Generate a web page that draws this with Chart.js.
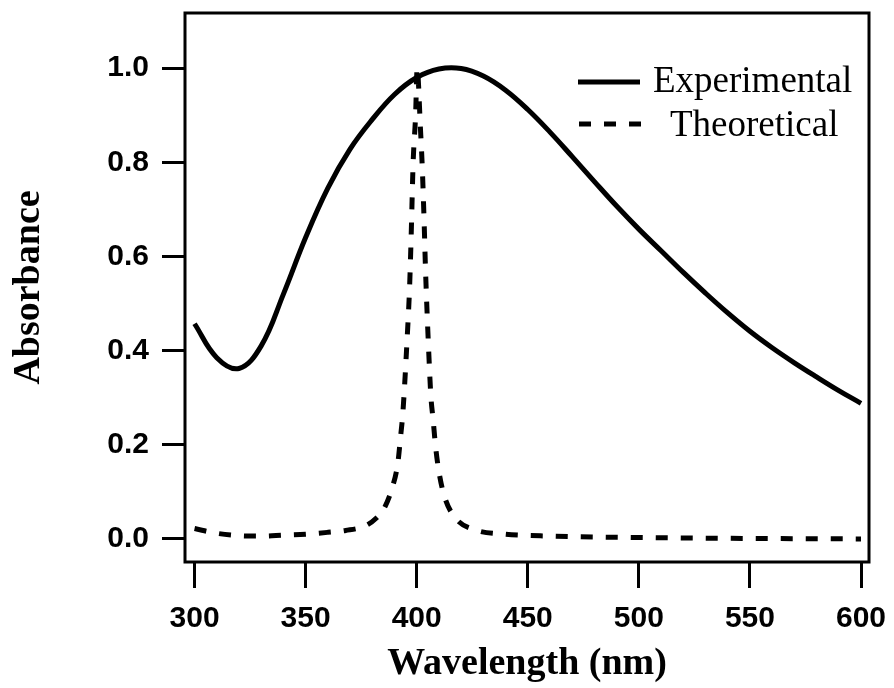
<!DOCTYPE html>
<html>
<head>
<meta charset="utf-8">
<title>Absorbance spectrum</title>
<script src="https://cdn.jsdelivr.net/npm/chart.js@4"></script>
<style>
    body { margin: 0; background: #fff; }
    #chart { display: block; }
</style>
</head>
<body>
<canvas id="chart" width="894" height="688"></canvas>
<script>
// Experimental spectrum
const expWavelength = [300, 310, 320, 330, 340, 350, 360, 370, 380, 390, 400, 410, 420, 430, 440, 450, 460, 470, 480, 490, 500, 510, 520, 530, 540, 550, 560, 570, 580, 590, 600];
const expAbsorbance = [0.457, 0.385, 0.362, 0.41, 0.52, 0.64, 0.745, 0.828, 0.891, 0.944, 0.980, 0.998, 0.999, 0.983, 0.953, 0.912, 0.864, 0.812, 0.759, 0.707, 0.658, 0.612, 0.566, 0.522, 0.480, 0.441, 0.406, 0.374, 0.344, 0.315, 0.288];

// Theoretical spectrum
const theoWavelength = [300, 310, 320, 330, 340, 350, 360, 368, 377, 382, 385, 389, 391.5, 392.7, 393.8, 395.7, 396.8, 397.5, 398.4, 399.5, 400.2, 401.7, 402.5, 403.3, 404.0, 405.3, 406.4, 407.4, 408.5, 410, 412.5, 417.5, 426.5, 440, 460, 500, 550, 600];
const theoAbsorbance = [0.022, 0.012, 0.007, 0.006, 0.008, 0.01, 0.014, 0.018, 0.028, 0.045, 0.062, 0.109, 0.161, 0.215, 0.27, 0.426, 0.535, 0.642, 0.8, 0.9, 1.0, 0.87, 0.79, 0.68, 0.567, 0.41, 0.302, 0.253, 0.196, 0.143, 0.09, 0.044, 0.019, 0.01, 0.006, 0.003, 0.001, 0.0];

const xTicks = [300, 350, 400, 450, 500, 550, 600];
const yTicks = [0.0, 0.2, 0.4, 0.6, 0.8, 1.0];

const toPoints = (xs, ys) => xs.map((x, i) => ({ x: x, y: ys[i] }));

// Box round the plot area plus the legend in the upper right
const framePlugin = {
    id: "frame",
    beforeDatasetsDraw(chart) {
        const { ctx, chartArea } = chart;
        ctx.save();
        ctx.strokeStyle = "#000";
        ctx.lineWidth = 3;
        ctx.strokeRect(chartArea.left, chartArea.top, chartArea.right - chartArea.left, chartArea.bottom - chartArea.top);
        ctx.restore();
    },
    afterDatasetsDraw(chart) {
        const { ctx } = chart;
        const items = [
            { ds: chart.data.datasets[0], x1: 578, x2: 640, y: 82, tx: 653, ty: 92 },
            { ds: chart.data.datasets[1], x1: 579, x2: 642, y: 124, tx: 670, ty: 136 }
        ];
        ctx.save();
        items.forEach(it => {
            ctx.beginPath();
            ctx.strokeStyle = it.ds.borderColor;
            ctx.lineWidth = 5;
            ctx.setLineDash(it.ds.borderDash || []);
            ctx.moveTo(it.x1, it.y);
            ctx.lineTo(it.x2, it.y);
            ctx.stroke();
            ctx.setLineDash([]);
            ctx.fillStyle = "#000";
            ctx.font = "37px 'Liberation Serif', 'Times New Roman', serif";
            ctx.textBaseline = "alphabetic";
            ctx.textAlign = "left";
            ctx.fillText(it.ds.label, it.tx, it.ty);
        });
        ctx.restore();
    }
};

const tickFont = { family: "'Liberation Sans', Arial, sans-serif", size: 30, weight: "bold" };
const titleFont = { family: "'Liberation Serif', 'Times New Roman', serif", size: 38, weight: "bold" };

new Chart(document.getElementById("chart"), {
    type: "line",
    data: {
        datasets: [
            {
                label: "Experimental",
                data: toPoints(expWavelength, expAbsorbance),
                borderColor: "#000",
                borderWidth: 5,
                pointRadius: 0,
                tension: 0.4
            },
            {
                label: "Theoretical",
                data: toPoints(theoWavelength, theoAbsorbance),
                borderColor: "#000",
                borderWidth: 5,
                borderDash: [12, 13],
                pointRadius: 0,
                cubicInterpolationMode: "monotone"
            }
        ]
    },
    options: {
        responsive: false,
        animation: false,
        layout: { padding: { left: 0, right: 25, top: 13, bottom: 0 } },
        plugins: {
            legend: { display: false },
            tooltip: { enabled: false }
        },
        scales: {
            x: {
                type: "linear",
                min: 295.7,
                max: 603.6,
                afterFit: scale => {
                    scale.height = 126;
                    scale.paddingLeft = 0;
                    scale.paddingRight = 0;
                },
                afterBuildTicks: scale => { scale.ticks = xTicks.map(v => ({ value: v })); },
                ticks: { font: tickFont, color: "#000", padding: 13, maxRotation: 0, callback: v => String(v) },
                grid: { drawOnChartArea: false, drawTicks: true, tickLength: 26, tickWidth: 3, tickColor: "#000" },
                border: { display: false },
                title: { display: true, text: "Wavelength (nm)", font: titleFont, color: "#000", padding: { top: 0, bottom: 1 } }
            },
            y: {
                type: "linear",
                min: -0.049,
                max: 1.117,
                afterFit: scale => {
                    scale.width = 185;
                    scale.paddingTop = 0;
                    scale.paddingBottom = 0;
                },
                afterBuildTicks: scale => { scale.ticks = yTicks.map(v => ({ value: v })); },
                ticks: { font: tickFont, color: "#000", padding: 13, callback: v => v.toFixed(1) },
                grid: { drawOnChartArea: false, drawTicks: true, tickLength: 23, tickWidth: 3, tickColor: "#000" },
                border: { display: false },
                title: { display: true, text: "Absorbance", font: titleFont, color: "#000", padding: { top: 6, bottom: 0 } }
            }
        }
    },
    plugins: [framePlugin]
});
</script>
</body>
</html>
